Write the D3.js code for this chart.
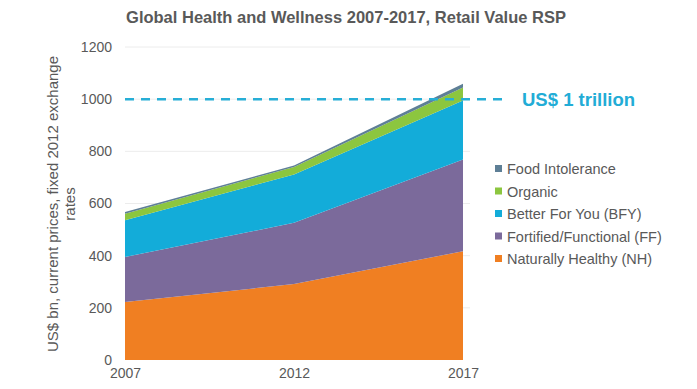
<!DOCTYPE html>
<html><head><meta charset="utf-8">
<script src="https://cdn.jsdelivr.net/npm/d3@7/dist/d3.min.js"></script>
<style>body{margin:0;background:#fff}svg{display:block;font-family:"Liberation Sans",Arial,sans-serif}</style>
</head><body><svg id="c" width="697" height="389"></svg>
<script>
const years = [2007, 2012, 2017];
const seriesNames = ["Naturally Healthy (NH)", "Fortified/Functional (FF)", "Better For You (BFY)", "Organic", "Food Intolerance"];
const naturallyHealthy = [222, 291, 417];
const fortifiedFunctional = [173, 235, 352];
const betterForYou = [141, 185, 226];
const organic = [25, 29, 50];
const foodIntolerance = [6, 6, 14];
const colors = ["#f07f22", "#7b6a9b", "#13acd9", "#8cc63f", "#5e7f96"];
const yTicks = [0, 200, 400, 600, 800, 1000, 1200];
const thresholdValue = 1000;
const thresholdLabel = "US$ 1 trillion";

const svg = d3.select("#c");
const x = d3.scaleLinear().domain([2007, 2017]).range([125, 463]);
const y = d3.scaleLinear().domain([0, 1200]).range([360, 47]);

svg.append("text").attr("x", 346).attr("y", 23).attr("text-anchor", "middle")
  .attr("font-size", 16.5).attr("font-weight", "bold").attr("fill", "#595959")
  .text("Global Health and Wellness 2007-2017, Retail Value RSP");

// gridlines
svg.append("g").selectAll("line").data(yTicks.slice(1)).join("line")
  .attr("x1", 125).attr("x2", 470).attr("y1", d => y(d)).attr("y2", d => y(d))
  .attr("stroke", "#ececec").attr("stroke-width", 1);

const yAxis = d3.axisLeft(y).tickValues(yTicks).tickFormat(d3.format("d")).tickSize(0).tickPadding(13);
const gy = svg.append("g").attr("transform", "translate(125,0)").call(yAxis);
gy.select(".domain").remove();
gy.selectAll("text").attr("font-size", 14).attr("fill", "#595959").attr("font-family", "Liberation Sans, Arial, sans-serif");

const xAxis = d3.axisBottom(x).tickValues(years).tickFormat(d3.format("d")).tickSize(0).tickPadding(8);
const gx = svg.append("g").attr("transform", "translate(0,360)").call(xAxis);
gx.select(".domain").remove();
gx.selectAll("text").attr("font-size", 14).attr("fill", "#595959").attr("font-family", "Liberation Sans, Arial, sans-serif");

const table = years.map((yr, i) => ({year: yr, s0: naturallyHealthy[i], s1: fortifiedFunctional[i], s2: betterForYou[i], s3: organic[i], s4: foodIntolerance[i]}));
const stack = d3.stack().keys(["s0", "s1", "s2", "s3", "s4"]);
const layers = stack(table);
const area = d3.area().x(d => x(d.data.year)).y0(d => y(d[0])).y1(d => y(d[1]));
svg.append("g").selectAll("path").data(layers).join("path")
  .attr("d", area).attr("fill", (d, i) => colors[i]);

// threshold
svg.append("line").attr("x1", 125).attr("x2", 502).attr("y1", y(thresholdValue)).attr("y2", y(thresholdValue))
  .attr("stroke", "#27aed6").attr("stroke-width", 2.5).attr("stroke-dasharray", "9,7");
svg.append("text").attr("x", 522).attr("y", y(thresholdValue) + 7).attr("font-size", 18.5).attr("font-weight", "bold")
  .attr("fill", "#22acd6").text(thresholdLabel);

// y label
const yl = svg.append("text").attr("transform", "translate(58,204) rotate(-90)").attr("text-anchor", "middle")
  .attr("font-size", 15).attr("fill", "#595959");
yl.append("tspan").attr("x", 0).attr("dy", 0).text("US$ bn, current prices, fixed 2012 exchange");
yl.append("tspan").attr("x", 0).attr("dy", 17).text("rates");

// legend
const legendOrder = [4, 3, 2, 1, 0];
const lg = svg.append("g").selectAll("g").data(legendOrder).join("g")
  .attr("transform", (d, i) => `translate(495,${169 + i * 22.5})`);
lg.append("rect").attr("x", 0).attr("y", -4).attr("width", 7).attr("height", 7).attr("fill", d => colors[d]);
lg.append("text").attr("x", 12).attr("y", 5).attr("font-size", 14.5).attr("fill", "#595959").text(d => seriesNames[d]);
</script></body></html>
